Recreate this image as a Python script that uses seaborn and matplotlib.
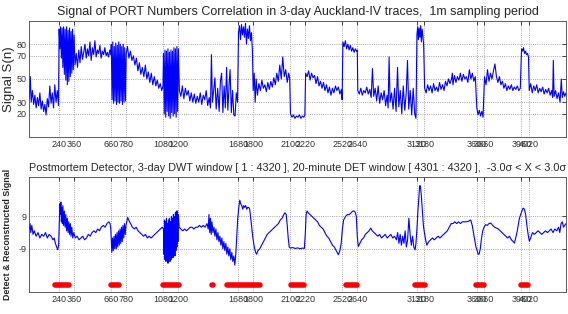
import numpy as np
import pandas as pd
import seaborn as sns
import matplotlib.pyplot as plt

# ticks shared by both panels (minutes)
x_ticks = [240, 360, 660, 780, 1080, 1200, 1680, 1800, 2100, 2220,
           2520, 2640, 3120, 3180, 3600, 3660, 3960, 4020]
top_yticks = [20, 30, 50, 70, 80]
bot_yticks = [-9, 9]

# signal S(n) as (minute, value)
top_points = [
    (0, 33), (8, 52), (15, 30), (25, 40), (35, 28), (45, 36), (55, 25), (65, 34), (75, 27), (85, 38),
    (95, 24), (105, 31), (115, 22), (125, 28), (135, 19), (145, 33), (155, 26), (165, 44), (175, 29),
    (185, 38), (195, 25), (205, 45), (215, 30), (225, 40), (235, 27),
    (240, 93), (246, 76), (252, 95), (258, 68), (264, 94), (270, 60), (276, 95), (282, 54), (288, 93),
    (294, 49), (300, 95), (306, 45), (312, 92), (318, 48), (324, 94), (330, 52), (336, 91), (342, 55),
    (348, 93), (354, 58), (360, 88),
    (368, 62), (378, 72), (388, 60), (398, 75), (408, 64), (418, 78), (428, 67), (438, 73), (448, 80),
    (458, 68), (468, 76), (478, 70), (488, 82), (498, 66), (508, 77), (518, 71), (528, 83), (538, 69),
    (548, 75), (558, 72), (568, 79), (578, 68), (588, 74), (598, 71), (608, 77), (618, 70), (628, 73),
    (638, 69), (648, 75), (656, 71),
    (660, 80), (666, 32), (672, 82), (678, 29), (684, 78), (690, 31), (696, 81), (702, 28), (708, 79),
    (714, 30), (720, 82), (726, 29), (732, 80), (738, 31), (744, 78), (750, 28), (756, 80), (762, 30),
    (768, 77), (774, 31), (780, 72),
    (790, 78), (802, 68), (814, 74), (826, 66), (838, 70), (850, 62), (862, 68), (874, 57), (886, 64),
    (898, 54), (910, 60), (922, 52), (934, 62), (946, 50), (958, 56), (970, 47), (982, 55), (994, 45),
    (1006, 52), (1018, 44), (1030, 49), (1042, 42), (1054, 46), (1066, 40), (1076, 44),
    (1080, 72), (1086, 20), (1092, 75), (1098, 17), (1104, 74), (1110, 22), (1116, 76), (1122, 18),
    (1128, 73), (1134, 16), (1140, 75), (1146, 21), (1152, 74), (1158, 18), (1164, 77), (1170, 20),
    (1176, 76), (1182, 17), (1188, 78), (1194, 22), (1200, 76),
    (1208, 40), (1220, 35), (1232, 44), (1244, 33), (1256, 42), (1268, 36), (1280, 40), (1292, 31),
    (1304, 38), (1316, 30), (1328, 37), (1340, 29), (1352, 35), (1364, 30), (1376, 38), (1388, 28),
    (1400, 36), (1412, 32), (1424, 40), (1436, 27), (1448, 34), (1458, 25), (1466, 71), (1474, 30),
    (1484, 40), (1494, 51), (1504, 24), (1516, 42), (1528, 22), (1538, 48), (1548, 55), (1558, 21),
    (1568, 44), (1578, 25), (1588, 60), (1598, 23), (1608, 45), (1616, 58), (1626, 21), (1636, 40),
    (1646, 19), (1656, 18), (1666, 38), (1676, 30),
    (1684, 90), (1692, 96), (1700, 84), (1708, 97), (1716, 88), (1724, 95), (1732, 86), (1740, 98),
    (1748, 80), (1756, 93), (1764, 85), (1772, 96), (1780, 83), (1788, 90), (1796, 74),
    (1802, 40), (1810, 55), (1818, 30), (1826, 50), (1836, 36), (1848, 46), (1860, 40), (1872, 49),
    (1884, 42), (1896, 45), (1908, 39), (1920, 47), (1932, 41), (1944, 48), (1956, 43), (1968, 51),
    (1980, 45), (1992, 55), (2004, 48), (2016, 62), (2028, 50), (2040, 69), (2052, 52), (2064, 58),
    (2076, 47), (2088, 55), (2096, 50),
    (2102, 20), (2114, 17), (2126, 19), (2138, 16), (2150, 18), (2162, 17), (2174, 19), (2186, 16),
    (2198, 18), (2210, 17), (2218, 19),
    (2224, 55), (2236, 52), (2248, 57), (2260, 49), (2272, 55), (2284, 51), (2296, 53), (2308, 46),
    (2320, 52), (2332, 44), (2344, 48), (2356, 42), (2368, 47), (2380, 40), (2392, 45), (2404, 38),
    (2416, 43), (2428, 36), (2440, 42), (2452, 38), (2464, 44), (2476, 40), (2488, 43), (2500, 37),
    (2512, 41), (2518, 32),
    (2524, 82), (2534, 78), (2544, 83), (2554, 76), (2564, 80), (2574, 75), (2584, 79), (2594, 74),
    (2604, 77), (2614, 73), (2624, 76), (2634, 74), (2640, 75),
    (2644, 40), (2656, 37), (2668, 42), (2680, 36), (2692, 40), (2704, 38), (2716, 43), (2728, 37),
    (2740, 41), (2752, 34), (2762, 59), (2772, 35), (2784, 42), (2796, 31), (2808, 44), (2820, 29),
    (2832, 38), (2844, 32), (2856, 40), (2868, 27), (2880, 36), (2888, 25), (2896, 69), (2904, 30),
    (2916, 38), (2928, 24), (2940, 42), (2952, 22), (2964, 60), (2974, 26), (2986, 40), (2998, 20),
    (3010, 44), (3022, 23), (3034, 38), (3044, 66), (3054, 24), (3066, 40), (3078, 19), (3090, 42),
    (3102, 20), (3112, 16),
    (3120, 88), (3126, 95), (3132, 84), (3138, 94), (3144, 86), (3150, 96), (3156, 82), (3162, 93),
    (3168, 87), (3174, 80),
    (3182, 42), (3194, 38), (3206, 45), (3218, 40), (3230, 44), (3242, 38), (3254, 46), (3266, 40),
    (3278, 43), (3290, 39), (3302, 47), (3314, 41), (3326, 45), (3338, 40), (3350, 48), (3362, 44),
    (3374, 50), (3386, 46), (3398, 50), (3405, 55), (3410, 45), (3422, 53), (3434, 47), (3446, 52),
    (3458, 49), (3470, 55), (3482, 48), (3494, 54), (3506, 50), (3518, 52), (3530, 47), (3542, 58),
    (3554, 50), (3566, 55), (3578, 48), (3590, 52),
    (3602, 25), (3612, 19), (3622, 23), (3632, 18), (3642, 22), (3652, 17),
    (3664, 52), (3676, 45), (3688, 58), (3700, 48), (3712, 55), (3724, 50), (3736, 57), (3748, 63),
    (3760, 52), (3772, 47), (3784, 52), (3796, 45), (3808, 48), (3820, 42), (3832, 46), (3844, 40),
    (3856, 44), (3868, 41), (3880, 45), (3892, 40), (3904, 43), (3916, 41), (3928, 44), (3940, 40),
    (3952, 42),
    (3962, 76), (3970, 74), (3978, 77), (3986, 72), (3994, 74), (4002, 71), (4010, 72), (4018, 69),
    (4024, 40), (4036, 46), (4048, 38), (4060, 44), (4072, 40), (4084, 45), (4096, 38), (4108, 42),
    (4120, 39), (4132, 43), (4144, 37), (4156, 41), (4168, 38), (4180, 42), (4192, 36), (4204, 40),
    (4212, 34), (4218, 66), (4224, 35), (4236, 40), (4248, 33), (4260, 38), (4272, 30), (4282, 50),
    (4290, 34), (4300, 39), (4310, 35), (4320, 38),
]

# reconstructed signal, lower panel
bot_points = [
    (0, 2), (6, 5), (12, 0), (20, 4), (30, -1), (40, 1), (55, -2), (70, 0), (85, -3), (100, -1),
    (115, -2), (130, 0), (145, -3), (160, -1), (175, -2), (190, -4), (200, -3), (210, -6), (220, -8),
    (228, -9.5), (236, -7),
    (242, 8), (246, 16), (250, 10), (254, 17), (258, 6), (262, 14), (266, 5), (270, 15), (276, 4),
    (282, 12), (288, 3), (294, 10), (300, 1), (306, 8), (312, 0), (318, 6), (324, -1), (330, 5),
    (336, -2), (342, 3), (350, -3), (358, 0),
    (370, -3), (385, -2), (400, -4), (415, -3), (430, -2), (445, -4), (460, -3), (475, -1), (490, -2),
    (505, 0), (520, 1), (535, 0), (550, 2), (565, 1), (580, 3), (595, 4), (610, 3), (625, 5), (640, 6),
    (650, 5), (656, 2),
    (660, -5), (664, -11), (670, -3), (676, -10), (682, -2), (688, -9), (694, -1), (700, -9), (706, 0),
    (712, -8), (718, 1), (724, -7), (730, 2), (736, -6), (742, 3), (748, -5), (754, 4), (760, -3),
    (766, 5), (772, -1), (778, 4),
    (784, 6), (792, 8.4), (800, 7), (815, 5), (830, 3), (845, 2), (860, 3), (875, 1), (890, 0),
    (905, -1), (920, -2), (935, -1), (950, -3), (965, -2), (980, -3), (995, -2), (1010, -1), (1025, 0),
    (1040, 1), (1055, 2), (1070, 3),
    (1080, 2), (1084, -12), (1088, 7), (1092, -15), (1096, 6), (1100, -16), (1104, 8), (1108, -14),
    (1112, 5), (1116, -17), (1120, 7), (1124, -13), (1128, 8), (1132, -16), (1136, 6), (1140, -15),
    (1144, 9), (1148, -12), (1152, 8), (1156, -14), (1160, 10), (1164, -11), (1168, 9), (1172, -13),
    (1176, 11), (1180, -10), (1184, 12), (1188, -8), (1192, 12), (1196, -5), (1200, 10),
    (1206, 3), (1220, 2), (1235, 1), (1250, 2), (1265, 1), (1280, 2), (1295, 3), (1310, 3), (1325, 2),
    (1340, 3), (1355, 3), (1370, 4), (1385, 3), (1400, 4), (1415, 3), (1430, 5), (1440, 2), (1446, 10),
    (1452, 0), (1458, 8), (1464, -1), (1470, 6), (1478, 0), (1486, 3), (1494, -2), (1502, 2),
    (1510, -4), (1518, 0), (1526, -5), (1534, -2), (1542, -7), (1550, -3), (1558, -9), (1566, -5),
    (1574, -10), (1582, -6), (1590, -12), (1598, -8), (1606, -13), (1614, -9), (1622, -15),
    (1630, -11), (1638, -16), (1646, -13), (1654, -18), (1662, -12), (1670, -2), (1678, 8),
    (1686, 14), (1694, 18), (1702, 16), (1710, 15), (1718, 13), (1726, 15), (1734, 14), (1742, 15),
    (1750, 13), (1758, 14), (1766, 14), (1774, 13), (1782, 8), (1790, 3), (1798, -2), (1806, -6),
    (1814, -9), (1822, -11), (1830, -12),
    (1840, -10), (1855, -9), (1870, -7), (1885, -5), (1900, -3), (1915, -1), (1930, 0), (1945, 1),
    (1960, 2), (1975, 3), (1990, 4), (2005, 5), (2020, 7), (2035, 8), (2048, 10), (2058, 11),
    (2068, 10), (2076, 4), (2084, -3), (2092, -8),
    (2100, -8.6), (2120, -8.3), (2140, -8.8), (2160, -8.5), (2180, -8.9), (2200, -8.6), (2214, -8.8),
    (2222, 0), (2228, 10), (2236, 12), (2245, 11), (2260, 10), (2275, 9), (2290, 8), (2305, 7),
    (2320, 6), (2335, 4), (2350, 3), (2365, 2), (2380, 0), (2395, -2), (2410, -3), (2425, -5),
    (2440, -7), (2455, -8), (2470, -10), (2488, -12.3), (2500, -10), (2510, -6), (2520, 2), (2530, 7),
    (2545, 9), (2560, 10), (2575, 10), (2590, 11), (2605, 12), (2615, 12), (2625, 11), (2632, 9),
    (2640, -2), (2648, -7.7),
    (2660, -6), (2675, -4), (2690, -3), (2705, -1), (2720, 0), (2735, 1), (2748, 2.5), (2760, 1),
    (2775, 0), (2790, -1), (2805, -2), (2820, -1), (2835, -3), (2850, -2), (2865, -1), (2880, -3),
    (2895, -2), (2910, -1), (2925, -3), (2940, -2), (2955, -4), (2965, 0), (2975, -6), (2985, -1),
    (2995, -7), (3005, -2), (3015, -6), (3025, 1), (3035, -8), (3045, -4), (3055, 8), (3065, -1),
    (3075, -7), (3085, -2), (3095, -8), (3105, -9.6), (3112, -6),
    (3120, 2), (3128, 12), (3136, 20), (3142, 26), (3148, 26), (3156, 20), (3164, 12), (3172, 4),
    (3180, 0), (3190, -4), (3200, -7),
    (3215, -5), (3230, -4), (3245, -3), (3260, -4), (3275, -3), (3290, -2), (3305, -3), (3320, -2),
    (3335, -1), (3350, 0), (3365, 1), (3380, 3), (3395, 5), (3410, 5), (3425, 6), (3440, 5), (3455, 6),
    (3470, 5), (3485, 6), (3500, 6), (3520, 6), (3540, 6.5), (3553, 7), (3565, 4), (3575, 0),
    (3585, -4), (3595, -8), (3605, -10), (3612, -12), (3620, -12), (3630, -9), (3640, -3), (3650, 1),
    (3660, 3), (3672, 4.4), (3685, 4),
    (3700, 5), (3715, 5.3), (3730, 4), (3745, 3), (3760, 2.5), (3775, 2), (3790, 1), (3805, 0),
    (3820, -1), (3835, -2), (3850, -3), (3865, -2), (3880, -4), (3895, -5), (3905, -5.8), (3915, -3),
    (3925, 0), (3935, 4), (3945, 8), (3955, 10),
    (3965, 12), (3975, 13.6), (3985, 13), (3995, 10), (4005, 4), (4015, -1), (4025, -4.8), (4035, -3),
    (4050, 0), (4065, -1), (4080, 0), (4095, 1), (4110, 0), (4125, -1), (4140, 0), (4155, 1),
    (4170, 0), (4185, 1), (4200, 2), (4215, 0), (4230, 2), (4245, 1), (4260, 3), (4270, 0), (4280, 5),
    (4290, 6), (4300, 3), (4310, 4), (4320, 5),
]

# detected windows (minutes) shown as red dots
det_start = [210, 658, 1074, 1473, 1589, 2104, 2547, 3102, 3598, 3956]
det_end = [322, 720, 1208, 1477, 1857, 2214, 2636, 3183, 3658, 4018]
det_level = -29

top_df = pd.DataFrame(top_points, columns=['minute', 'value'])
bot_df = pd.DataFrame(bot_points, columns=['minute', 'value'])

sns.set_style('white')
plt.rcParams['font.family'] = ['Liberation Sans', 'DejaVu Sans']

fig = plt.figure(figsize=(5.68, 3.14), dpi=100)
ax1 = fig.add_axes([0.0516, 0.564, 0.9449, 0.369])
ax2 = fig.add_axes([0.0516, 0.07, 0.9449, 0.367])

sns.lineplot(data=top_df, x='minute', y='value', ax=ax1, color='#0000ff',
             linewidth=0.8, estimator=None)
sns.lineplot(data=bot_df, x='minute', y='value', ax=ax2, color='#0000ff',
             linewidth=0.8, estimator=None)

lc = ax2.hlines([det_level] * len(det_start), det_start, det_end, colors='#ff0000', linewidth=4)
lc.set_capstyle('round')

for ax, yt in [(ax1, top_yticks), (ax2, bot_yticks)]:
    ax.set_xlim(0, 4320)
    ax.set_xticks(x_ticks)
    ax.set_xticklabels([str(t) for t in x_ticks], fontsize=6.5, color='#333333')
    ax.set_yticks(yt)
    ax.set_yticklabels([str(t) for t in yt], fontsize=6.5, color='#333333')
    ax.tick_params(direction='in', length=3, width=0.6, top=True, right=True, pad=2)
    ax.grid(True, linestyle=':', linewidth=0.6, color='#888888')
    ax.set_xlabel('')
    for s in ax.spines.values():
        s.set_linewidth(0.6)
        s.set_color('#444444')

ax1.set_ylim(0, 100)
ax2.set_ylim(-33, 31)

ax1.set_title('Signal of PORT Numbers Correlation in 3-day Auckland-IV traces,  1m sampling period',
              fontsize=9, pad=4)
ax2.set_title('Postmortem Detector, 3-day DWT window [ 1 : 4320 ], 20-minute DET window [ 4301 : 4320 ],  '
              '-3.0\u03c3 < X < 3.0\u03c3', fontsize=7.8, pad=4, loc='left', x=0.0)
ax1.set_ylabel('Signal S(n)', fontsize=9.5)
ax1.yaxis.set_label_coords(-0.027, 0.5)
ax2.set_ylabel('Detect & Reconstructed Signal', fontsize=6.4, fontweight='bold')
ax2.yaxis.set_label_coords(-0.033, 0.5)

fig.savefig('out.png', dpi=100)
